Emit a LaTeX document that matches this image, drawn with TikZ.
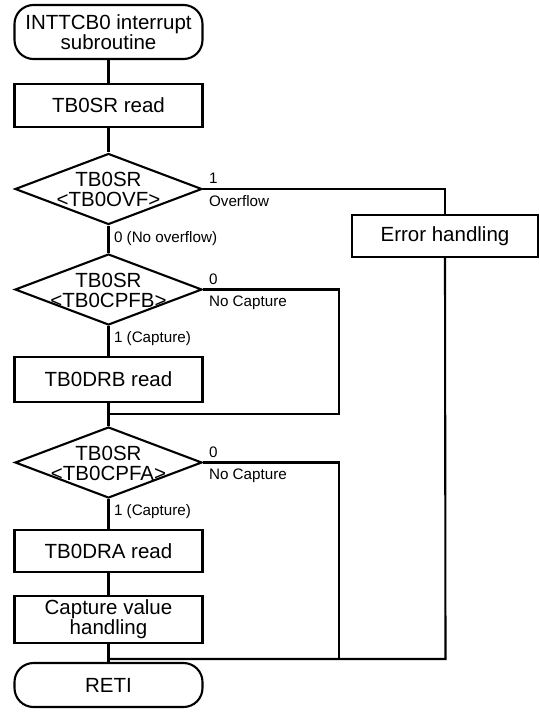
\documentclass[tikz,border=0pt]{standalone}
\usepackage{fontspec}
\setmainfont{Liberation Sans}
\usetikzlibrary{shapes.geometric,calc}
\begin{document}
\begin{tikzpicture}[x=1pt,y=-1pt,
  every path/.style={line width=2.1pt},
  box/.style={draw, line width=2.1pt, rectangle, minimum width=188pt, inner sep=0pt, align=center,
    font=\fontsize{20.5}{18.5}\selectfont},
  term/.style={box, rounded corners=19pt},
  dia/.style={draw, line width=2.1pt, diamond, inner sep=0pt, minimum width=187pt, minimum height=71pt},
  diatext/.style={align=center, inner sep=0pt, font=\fontsize{20.5}{20}\selectfont},
  lbl/.style={inner sep=0pt, font=\fontsize{15.2}{16}\selectfont}]
\useasboundingbox (0,0) rectangle (539,718);

\node[term, minimum height=54pt] (start) at (108.5,32) {INTTCB0 interrupt\\subroutine};
\node[box, minimum height=43pt] (read0) at (108.5,105.5) {TB0SR read};
\node[dia] (d1) at (108.5,189) {};
\node[diatext] (d1t) at (108.5,189.5) {TB0SR\\\textless TB0OVF\textgreater};
\node[box, minimum width=186pt, minimum height=42pt] (err) at (445,236) {Error handling};
\node[dia] (d2) at (108.5,289.5) {};
\node[diatext] (d2t) at (108.5,290) {TB0SR\\\textless TB0CPFB\textgreater};
\node[box, minimum height=45pt] (drb) at (108.5,379.5) {TB0DRB read};
\node[dia] (d3) at (108.5,462.5) {};
\node[diatext] (d3t) at (108.5,463) {TB0SR\\\textless TB0CPFA\textgreater};
\node[box, minimum height=42pt] (dra) at (108.5,551) {TB0DRA read};
\node[box, minimum height=47pt] (cap) at (108.5,619.5) {Capture value\\handling};
\node[term, minimum height=44pt] (reti) at (108.5,685) {RETI};

\coordinate (m1) at (108.5,414);
\coordinate (m2) at (108.5,659);
\coordinate (b1) at (339,414);
\coordinate (b2) at (339,659);
\coordinate (e2) at (445.5,659);

% labels
\node[lbl, anchor=south west] (l1) at ($(d1.east)+(5,-4)$) {1};
\node[lbl, anchor=north west] (l2) at ($(d1.east)+(5,5)$) {Overflow};
\node[lbl, anchor=west] (l3) at (113,239) {0 (No overflow)};
\node[lbl, anchor=south west] (l4) at ($(d2.east)+(5,-4)$) {0};
\node[lbl, anchor=north west] (l5) at ($(d2.east)+(5,5)$) {No Capture};
\node[lbl, anchor=west] (l6) at (113,339) {1 (Capture)};
\node[lbl, anchor=south west] (l7) at ($(d3.east)+(5,-4)$) {0};
\node[lbl, anchor=north west] (l8) at ($(d3.east)+(5,5)$) {No Capture};
\node[lbl, anchor=west] (l9) at (113,512) {1 (Capture)};

% connectors
\draw (start) -- (read0);
\draw (read0) -- (d1);
\draw (d1) -- (d2);
\draw (d1.east) -| (err.north);
\draw (err.south) -- (e2) -- (m2);
\draw (d2) -- (drb);
\draw (d2.east) -| (b1) -- (m1);
\draw (drb) -- (d3);
\draw (d3.east) -| (b2);
\draw (d3) -- (dra);
\draw (dra) -- (cap);
\draw (cap) -- (reti);
\end{tikzpicture}
\end{document}
